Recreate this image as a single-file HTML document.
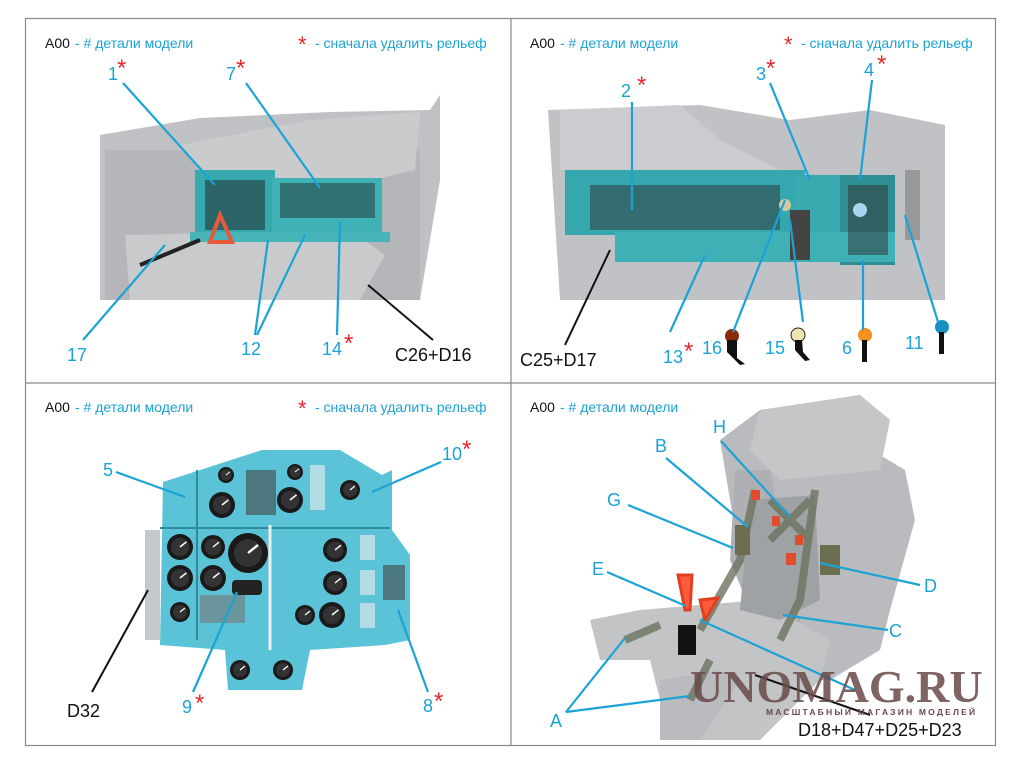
<!DOCTYPE html>
<html><head><meta charset="utf-8"><style>
body{margin:0;background:#fff;width:1020px;height:765px;overflow:hidden}
svg{display:block}
text{font-family:"Liberation Sans",sans-serif}
.c{fill:#1ba3d6}.k{fill:#111}.r{fill:#e8262b}
.l{stroke:#1ba3d6;stroke-width:2.2;fill:none}
.lk{stroke:#111;stroke-width:2;fill:none}
</style></head><body>
<svg width="1020" height="765" viewBox="0 0 1020 765">
<defs>
<g id="gauge"><circle r="10" fill="#1a1a1a"/><circle r="7" fill="#333"/><line x1="0" y1="0" x2="5" y2="-4" stroke="#fff" stroke-width="1.2"/></g>
</defs>
<rect x="25.5" y="18.5" width="970" height="727" fill="none" stroke="#888" stroke-width="1.2"/>
<line x1="511" y1="18" x2="511" y2="746" stroke="#888" stroke-width="1.2"/>
<line x1="25" y1="383" x2="995" y2="383" stroke="#888" stroke-width="1.2"/>

<!-- TL photo -->
<polygon points="100,135 200,118 330,112 430,110 440,95 440,180 420,300 100,300" fill="#bfc1c4"/>
<polygon points="105,150 420,150 420,300 105,300" fill="#b4b6b9"/>
<polygon points="180,145 310,120 420,112 415,170 350,185 200,170" fill="#c9cbcd"/>
<polygon points="125,235 350,230 385,255 360,300 130,300" fill="#c8cacc"/>
<rect x="195" y="170" width="80" height="70" fill="#35a9ad"/>
<rect x="272" y="178" width="110" height="55" fill="#3fb2b6"/>
<rect x="190" y="232" width="200" height="10" fill="#46b4b8"/>
<g fill="#222"><rect x="205" y="180" width="60" height="50" opacity=".5"/><rect x="280" y="183" width="95" height="35" opacity=".45"/></g>
<polygon points="210,242 220,215 232,242" fill="none" stroke="#e45a3a" stroke-width="4"/>
<line x1="140" y1="265" x2="200" y2="240" stroke="#222" stroke-width="4"/>

<!-- TR photo -->
<polygon points="548,110 700,105 790,120 870,110 945,125 945,300 560,300" fill="#c0c2c5"/>
<polygon points="560,110 680,105 720,140 780,170 560,170" fill="#cacccf"/>
<rect x="565" y="170" width="240" height="65" fill="#35a7ae"/>
<rect x="795" y="175" width="45" height="70" fill="#3aaab0"/>
<rect x="840" y="175" width="55" height="90" fill="#2d8e93"/>
<rect x="615" y="232" width="280" height="30" fill="#3fb0b5"/>
<g fill="#333" opacity=".5"><rect x="590" y="185" width="190" height="45"/><rect x="848" y="185" width="40" height="70"/></g>
<rect x="790" y="210" width="20" height="50" fill="#444"/>
<circle cx="785" cy="205" r="6" fill="#d8c8a0"/>
<circle cx="860" cy="210" r="7" fill="#a7d6ee"/>
<rect x="905" y="170" width="15" height="70" fill="#999"/>

<circle cx="732" cy="336" r="7" fill="#8b2b0c"/><polygon points="727,340 737,340 737,358 745,364 740,365 727,352" fill="#111"/>
<circle cx="798" cy="335" r="7" fill="#eee4b0" stroke="#222"/><polygon points="795,340 802,340 803,352 810,360 805,361 795,350" fill="#111"/>
<circle cx="865" cy="335" r="7" fill="#f7901e"/><rect x="862" y="340" width="5" height="22" fill="#111"/>
<circle cx="942" cy="327" r="7" fill="#1591c0"/><rect x="939" y="332" width="5" height="22" fill="#111"/>

<!-- BL panel -->
<polygon points="145,530 160,530 160,640 145,640" fill="#c5c8cb"/>
<polygon points="163,482 262,450 340,450 382,475 392,470 392,530 410,555 410,640 385,645 310,650 302,690 228,690 225,650 160,645" fill="#5bc3d7"/>
<line x1="160" y1="528" x2="390" y2="528" stroke="#2f8a9c" stroke-width="2"/>
<line x1="197" y1="470" x2="197" y2="640" stroke="#2f8a9c" stroke-width="2"/>
<line x1="270" y1="525" x2="270" y2="650" stroke="#eee" stroke-width="3"/>
<g>
<use href="#gauge" transform="translate(222,505) scale(1.3)"/><use href="#gauge" transform="translate(290,500) scale(1.3)"/>
<use href="#gauge" transform="translate(180,547) scale(1.3)"/><use href="#gauge" transform="translate(180,578) scale(1.3)"/><use href="#gauge" transform="translate(180,612) scale(1)"/>
<use href="#gauge" transform="translate(213,547) scale(1.2)"/><use href="#gauge" transform="translate(213,578) scale(1.3)"/>
<use href="#gauge" transform="translate(248,553) scale(2)"/>
<use href="#gauge" transform="translate(335,550) scale(1.2)"/><use href="#gauge" transform="translate(335,583) scale(1.2)"/><use href="#gauge" transform="translate(332,615) scale(1.3)"/><use href="#gauge" transform="translate(305,615) scale(1)"/>
<use href="#gauge" transform="translate(240,670) scale(1)"/><use href="#gauge" transform="translate(283,670) scale(1)"/>
<use href="#gauge" transform="translate(350,490) scale(1)"/><use href="#gauge" transform="translate(226,475) scale(.8)"/><use href="#gauge" transform="translate(295,472) scale(.8)"/>
</g>
<rect x="246" y="470" width="30" height="45" fill="#444" opacity=".6"/>
<rect x="232" y="580" width="30" height="15" rx="4" fill="#222"/>
<rect x="200" y="595" width="45" height="28" fill="#777" opacity=".6"/>
<g fill="#eee" opacity=".6"><rect x="360" y="535" width="15" height="25"/><rect x="360" y="570" width="15" height="25"/><rect x="360" y="603" width="15" height="25"/><rect x="310" y="465" width="15" height="45"/></g>
<rect x="383" y="565" width="22" height="35" fill="#444" opacity=".6"/>

<!-- BR seat -->
<polygon points="760,410 860,395 890,420 880,455 905,470 915,520 890,610 880,650 830,680 780,680 770,610 740,560 720,440" fill="#b9bbbe"/>
<polygon points="760,410 860,395 890,420 880,470 780,480 750,450" fill="#c4c6c8"/>
<polygon points="735,470 770,470 800,620 810,660 770,660 730,560" fill="#aeb0b3"/>
<polygon points="590,620 640,610 700,605 760,600 830,640 820,680 760,740 690,740 660,700 650,660 600,660" fill="#c2c4c6"/>
<polygon points="660,680 720,670 740,680 700,740 660,740" fill="#b9bbbe"/>
<polygon points="750,500 815,495 820,600 780,620 740,610" fill="#9fa2a5"/>
<g stroke="#6d7560" stroke-width="8" fill="none" opacity=".8">
<path d="M755,490 L740,560 L700,630"/><path d="M815,490 L800,600 L780,640"/><path d="M770,500 L810,540"/><path d="M810,500 L770,540"/>
<path d="M625,640 L660,625"/><path d="M690,700 L710,660"/>
</g>
<rect x="820" y="545" width="20" height="30" fill="#6c6e4f"/>
<rect x="735" y="525" width="15" height="30" fill="#6c6e4f"/>
<path d="M678,575 L692,575 L690,610 L685,610 Z M700,600 L718,598 L705,620 Z" fill="#ff5a3c" stroke="#e04020" stroke-width="3"/>
<rect x="678" y="625" width="18" height="30" fill="#111"/>
<g fill="#e24c2e"><rect x="752" y="490" width="8" height="10"/><rect x="795" y="535" width="8" height="10"/><rect x="786" y="553" width="10" height="12"/><rect x="772" y="516" width="8" height="10"/></g>

<g font-size="14">
<text x="45" y="48" class="k">A00</text><text x="75" y="48" class="c">- # детали модели</text>
<text x="298" y="52" class="r" font-size="22">*</text><text x="315" y="48" class="c">- сначала удалить рельеф</text>
<text x="530" y="48" class="k">A00</text><text x="560" y="48" class="c">- # детали модели</text>
<text x="784" y="52" class="r" font-size="22">*</text><text x="801" y="48" class="c">- сначала удалить рельеф</text>
<text x="45" y="412" class="k">A00</text><text x="75" y="412" class="c">- # детали модели</text>
<text x="298" y="416" class="r" font-size="22">*</text><text x="315" y="412" class="c">- сначала удалить рельеф</text>
<text x="530" y="412" class="k">A00</text><text x="560" y="412" class="c">- # детали модели</text>
</g>
<g font-size="18" class="c">
<text x="108" y="80">1</text><text x="226" y="80">7</text><text x="67" y="361">17</text><text x="241" y="355">12</text><text x="322" y="355">14</text>
<text x="621" y="97">2</text><text x="756" y="80">3</text><text x="864" y="76">4</text><text x="663" y="363">13</text><text x="702" y="354">16</text><text x="765" y="354">15</text><text x="842" y="354">6</text><text x="905" y="349">11</text>
<text x="103" y="476">5</text><text x="442" y="460">10</text><text x="182" y="713">9</text><text x="423" y="712">8</text>
<text x="713" y="433">H</text><text x="655" y="452">B</text><text x="607" y="506">G</text><text x="592" y="575">E</text><text x="924" y="592">D</text><text x="889" y="637">C</text><text x="550" y="727">A</text>
</g>
<g class="r" font-size="24">
<text x="117" y="76">*</text><text x="236" y="76">*</text><text x="344" y="351">*</text>
<text x="637" y="93">*</text><text x="766" y="76">*</text><text x="877" y="72">*</text><text x="684" y="359">*</text>
<text x="462" y="457">*</text><text x="195" y="711">*</text><text x="434" y="709">*</text>
</g>
<g font-size="18" class="k">
<text x="395" y="361">C26+D16</text><text x="520" y="366">C25+D17</text><text x="67" y="717">D32</text><text x="798" y="736">D18+D47+D25+D23</text>
</g>
<g class="l">
<line x1="123" y1="83" x2="215" y2="185"/><line x1="246" y1="83" x2="320" y2="188"/>
<line x1="83" y1="340" x2="165" y2="245"/><line x1="255" y1="335" x2="268" y2="240"/><line x1="257" y1="335" x2="305" y2="235"/><line x1="337" y1="335" x2="340" y2="222"/>
<line x1="632" y1="102" x2="632" y2="210"/><line x1="770" y1="83" x2="810" y2="180"/><line x1="872" y1="80" x2="860" y2="180"/>
<line x1="670" y1="332" x2="705" y2="255"/><line x1="733" y1="332" x2="785" y2="200"/><line x1="803" y1="322" x2="790" y2="220"/><line x1="863" y1="330" x2="863" y2="260"/><line x1="938" y1="322" x2="905" y2="215"/>
<line x1="116" y1="472" x2="185" y2="497"/><line x1="441" y1="462" x2="372" y2="492"/><line x1="193" y1="692" x2="237" y2="592"/><line x1="428" y1="692" x2="398" y2="610"/>
<line x1="721" y1="441" x2="790" y2="517"/><line x1="666" y1="458" x2="748" y2="527"/><line x1="628" y1="505" x2="733" y2="548"/><line x1="607" y1="572" x2="686" y2="606"/>
<line x1="920" y1="585" x2="820" y2="563"/><line x1="888" y1="630" x2="783" y2="615"/><line x1="700" y1="620" x2="855" y2="690"/>
<line x1="566" y1="712" x2="625" y2="638"/><line x1="566" y1="712" x2="690" y2="696"/>
</g>
<g class="lk">
<line x1="433" y1="340" x2="368" y2="285"/><line x1="565" y1="345" x2="610" y2="250"/><line x1="92" y1="692" x2="148" y2="590"/><line x1="755" y1="675" x2="870" y2="715"/>
</g>
<text x="690" y="702" style="font-family:'Liberation Serif',serif" font-size="46" font-weight="bold" fill="#6a4a4a" opacity=".85">UNOMAG.RU</text>
<text x="766" y="715" font-size="8.5" fill="#6a4a4a" letter-spacing="2.2" font-weight="bold">МАСШТАБНЫЙ МАГАЗИН МОДЕЛЕЙ</text>
</svg>
</body></html>
